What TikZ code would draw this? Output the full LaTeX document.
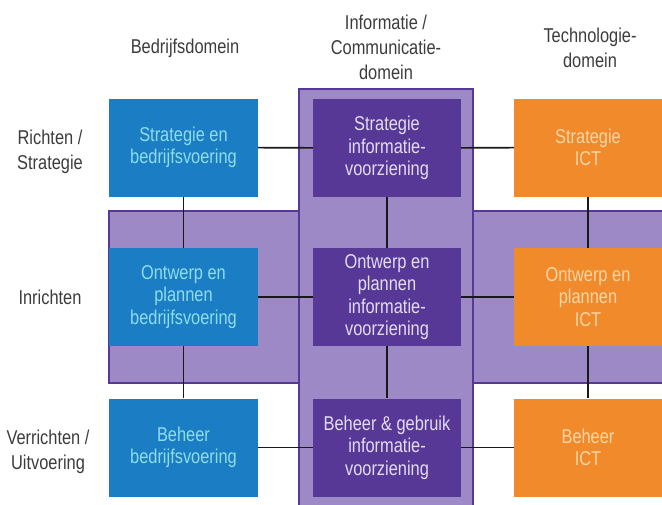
\documentclass[tikz,border=0pt]{standalone}
\usepackage{xcolor}
\usepackage{fontspec}
\setmainfont[FakeStretch=0.82]{Liberation Sans}
\definecolor{bizBlue}{HTML}{1B7EC4}
\definecolor{bizText}{HTML}{8FDDEB}
\definecolor{infoDark}{HTML}{573896}
\definecolor{infoText}{HTML}{E4DCF2}
\definecolor{infoLight}{HTML}{9D89C6}
\definecolor{techOrange}{HTML}{F08A2B}
\definecolor{techText}{HTML}{F9D6A6}
\definecolor{labelGray}{HTML}{3C3C3C}
\tikzset{
  bizBox/.style={rectangle,fill=bizBlue,text=bizText,minimum width=149pt,minimum height=98pt,inner sep=0pt,align=center,font=\fontsize{20}{22.5}\selectfont},
  infoBox/.style={bizBox,fill=infoDark,text=infoText,minimum width=148pt},
  techBox/.style={bizBox,fill=techOrange,text=techText,minimum width=148pt},
  head/.style={align=center,text=labelGray,font=\fontsize{20}{25}\selectfont},
  band/.style={fill=infoLight,draw=infoDark,line width=1.4pt},
  link/.style={draw=black!90,line width=1.6pt}
}
\begin{document}
\begin{tikzpicture}[x=1pt,y=-1pt]
  \useasboundingbox (0,0) rectangle (662,504);
  % achtergrond
  \path[band] (109,211) rectangle (664,383);
  \path[band] (299,89) rectangle (473,506);
  % koppen
  \node[head] (hBiz) at (185,48) {Bedrijfsdomein};
  \node[head] (hInfo) at (386,47) {Informatie /\\Communicatie-\\domein};
  \node[head] (hTech) at (590,48) {Technologie-\\domein};
  \node[head] (rRicht) at (50,152) {Richten /\\Strategie};
  \node[head] (rInr) at (50,297) {Inrichten};
  \node[head] (rVerr) at (48,452) {Verrichten /\\Uitvoering};
  % blokken
  \node[bizBox] (b1) at (183.5,147.5) {Strategie en\\bedrijfsvoering};
  \node[bizBox] (b2) at (183.5,297) {Ontwerp en\\plannen\\bedrijfsvoering};
  \node[bizBox] (b3) at (183.5,447.5) {Beheer\\bedrijfsvoering};
  \node[infoBox] (i1) at (387,148) {Strategie\\informatie-\\voorziening};
  \node[infoBox] (i2) at (387,297) {Ontwerp en\\plannen\\informatie-\\voorziening};
  \node[infoBox] (i3) at (387,447.5) {Beheer \& gebruik\\informatie-\\voorziening};
  \node[techBox] (t1) at (588,147.5) {Strategie\\ICT};
  \node[techBox] (t2) at (588,297) {Ontwerp en\\plannen\\ICT};
  \node[techBox] (t3) at (588,447.5) {Beheer\\ICT};
  % verbindingen
  \draw[link] (b1) -- (i1);
  \draw[link] (i1) -- (t1);
  \draw[link] (b2) -- (i2);
  \draw[link] (i2) -- (t2);
  \draw[link] (b3) -- (i3);
  \draw[link] (i3) -- (t3);
  \draw[link] (b1) -- (b2);
  \draw[link] (b2) -- (b3);
  \draw[link] (i1) -- (i2);
  \draw[link] (i2) -- (i3);
  \draw[link] (t1) -- (t2);
  \draw[link] (t2) -- (t3);
\end{tikzpicture}
\end{document}
